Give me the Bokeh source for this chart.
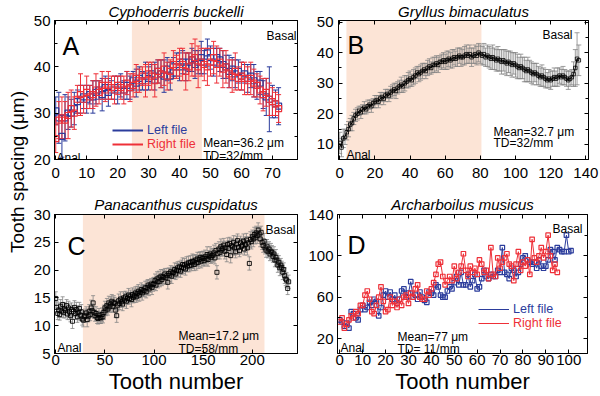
import math
from bokeh.plotting import figure
from bokeh.models import (Range1d, LinearAxis, BoxAnnotation, Whisker, TeeHead, Label,
                          ColumnDataSource, Legend, LegendItem, FixedTicker)
from bokeh.layouts import row, column
from bokeh.embed import file_html
from bokeh.resources import INLINE

FONT = "Liberation Sans"
BLUE = "#2b3c9c"
RED = "#ee3038"
SHADE = "#fce4d6"
GRAY = "#858585"

# ---------------- data ----------------
A_left = [30.5, 29.0, 25.0, 29.0, 30.0, 30.0, 31.0, 32.5, 33.0, 33.5,
          33.0, 34.0, 33.5, 34.5, 35.0, 34.0, 35.5, 34.5, 35.0, 35.5,
          35.0, 36.0, 35.0, 36.0, 35.5, 37.0, 36.5, 37.5, 37.0, 38.0,
          37.5, 38.5, 38.0, 39.0, 38.5, 38.0, 39.5, 38.0, 40.0, 40.5,
          40.0, 41.0, 40.0, 41.0, 41.5, 40.5, 41.0, 42.0, 41.0, 43.0,
          42.0, 41.0, 42.0, 41.5, 40.5, 40.0, 39.0, 39.5, 38.5, 39.0,
          38.0, 38.5, 37.5, 38.0, 37.0, 36.0, 36.5, 34.0, 33.5, 33.0,
          32.5, 32.0, 31.5]
A_left_err = [3.0, 5.5, 4.5, 5.0, 3.5, 3.0, 3.5, 2.5, 3.0, 2.5,
              3.0, 2.0, 3.5, 2.5, 2.0, 3.5, 2.5, 3.0, 2.0, 2.5,
              3.0, 2.5, 2.0, 3.0, 2.5, 2.0, 3.0, 2.5, 2.0, 3.0,
              2.5, 2.0, 3.0, 2.5, 3.0, 3.5, 2.5, 3.0, 2.0, 2.5,
              3.0, 2.5, 3.0, 2.0, 2.5, 3.0, 2.5, 3.5, 2.5, 3.0,
              2.5, 3.0, 2.0, 2.5, 3.0, 2.5, 3.5, 2.5, 3.0, 2.5,
              3.0, 2.0, 3.0, 2.5, 3.5, 3.0, 2.5, 3.0, 4.0, 7.0,
              3.5, 3.0, 4.0]
A_right = [24.5, 28.5, 29.0, 28.5, 29.5, 31.0, 30.0, 33.0, 34.0, 33.0,
           34.5, 33.5, 34.0, 35.0, 34.5, 36.0, 35.0, 36.0, 35.5, 35.0,
           36.0, 35.5, 35.0, 36.5, 35.5, 36.0, 37.5, 37.0, 38.0, 37.0,
           38.5, 38.0, 37.0, 39.0, 38.5, 39.5, 38.0, 39.0, 40.5, 40.0,
           41.0, 40.5, 39.0, 40.0, 41.5, 42.0, 40.0, 41.0, 40.5, 40.0,
           41.0, 42.0, 40.5, 41.0, 39.5, 40.0, 38.5, 38.0, 39.0, 37.5,
           38.0, 37.5, 37.0, 37.5, 36.5, 36.0, 35.0, 34.0, 34.5, 33.0,
           32.5, 32.0, 31.0]
A_right_err = [3.0, 4.0, 4.5, 4.0, 5.0, 4.0, 3.5, 3.0, 4.5, 3.0,
               3.5, 2.5, 3.0, 3.5, 2.5, 3.0, 2.5, 3.0, 2.5, 3.0,
               2.0, 2.5, 3.0, 2.5, 3.0, 2.5, 3.0, 2.5, 2.0, 3.5,
               2.5, 3.0, 3.5, 2.5, 3.0, 3.5, 3.0, 2.5, 3.0, 2.5,
               3.0, 3.5, 4.0, 3.0, 3.5, 4.0, 4.5, 3.0, 3.5, 4.0,
               3.0, 3.5, 4.0, 3.0, 4.0, 3.5, 3.0, 3.5, 4.0, 2.5,
               3.0, 3.5, 3.0, 3.5, 3.0, 2.5, 3.0, 3.5, 3.0, 3.5,
               3.0, 2.5, 3.0]
A_shade = (24.6, 47.2)

B_mean = [10.5, 9.0, 12.0, 12.5, 14.0, 15.0, 16.5, 17.0, 18.5, 19.5,
          20.0, 21.0, 20.5, 21.5, 22.0, 21.5, 22.5, 23.0, 22.5, 23.5,
          24.0, 24.5, 24.0, 25.0, 25.5, 25.0, 26.0, 26.5, 26.0, 27.0,
          27.5, 28.0, 27.5, 28.5, 29.0, 29.5, 29.0, 30.0, 30.5, 31.0,
          31.5, 31.0, 32.0, 32.5, 33.5, 33.0, 33.5, 34.0, 34.5, 34.0,
          35.0, 35.5, 35.0, 36.0, 36.0, 36.5, 36.0, 37.0, 37.0, 37.5,
          37.0, 37.5, 38.0, 37.5, 38.0, 38.5, 38.0, 38.5, 39.0, 38.5,
          38.5, 39.0, 39.5, 39.0, 39.5, 38.5, 39.0, 39.5, 39.0, 40.0,
          39.5, 39.0, 39.5, 38.5, 39.0, 38.5, 38.0, 38.5, 38.0, 37.5,
          38.0, 37.5, 37.0, 37.5, 37.0, 36.5, 37.0, 36.5, 36.0, 36.5,
          36.0, 35.5, 35.0, 35.5, 35.0, 34.5, 34.0, 34.5, 34.0, 33.5,
          33.0, 33.5, 33.0, 32.5, 32.0, 32.5, 32.0, 31.5, 31.0, 31.5,
          31.0, 31.5, 32.0, 31.5, 32.0, 32.5, 32.0, 32.5, 32.0, 31.5,
          31.0, 31.5, 32.0, 33.0, 35.0, 38.0, 37.5]
B_err = [3.5, 3.0, 3.0, 2.5, 2.5, 2.5, 2.0, 2.5, 2.0, 2.0,
         2.0, 1.5, 2.0, 1.5, 2.0, 1.5, 2.0, 1.5, 2.0, 1.5,
         2.0, 1.5, 2.0, 2.0, 1.5, 2.0, 2.0, 1.5, 2.0, 2.0,
         2.0, 2.0, 2.5, 2.0, 2.0, 2.5, 2.0, 2.5, 2.0, 2.5,
         2.5, 2.0, 2.5, 2.5, 2.0, 2.5, 2.5, 2.5, 2.0, 2.5,
         2.5, 2.5, 2.0, 2.5, 2.5, 2.5, 2.5, 2.0, 2.5, 2.5,
         2.5, 3.0, 2.5, 2.5, 3.0, 2.5, 2.5, 3.0, 2.5, 3.0,
         2.5, 3.0, 3.0, 2.5, 3.0, 3.0, 2.5, 3.0, 3.0, 3.0,
         3.0, 3.0, 3.5, 3.0, 3.5, 3.5, 3.5, 4.0, 3.5, 3.5,
         4.0, 3.5, 4.0, 3.5, 4.0, 4.0, 3.5, 4.0, 4.0, 3.5,
         4.0, 4.0, 3.5, 4.0, 3.5, 4.0, 3.5, 4.0, 3.5, 3.5,
         3.5, 3.0, 3.5, 3.0, 3.0, 3.5, 3.0, 3.0, 2.5, 3.0,
         3.0, 2.5, 3.0, 2.5, 3.0, 2.5, 2.5, 3.0, 2.5, 2.5,
         3.0, 2.5, 2.5, 4.0, 6.0, 8.5, 5.0]
B_shade = (3.8, 80.6)

C_mean = [14.9, 13.3, 12.2, 12.8, 12.0, 13.5, 12.6, 13.8, 12.4, 13.0,
          12.7, 13.6, 12.1, 13.2, 12.5, 11.8, 12.9, 10.8, 12.6, 13.3,
          12.2, 12.9, 11.6, 12.4, 13.1, 11.9, 12.5, 11.2, 11.0, 11.6,
          11.8, 12.3, 11.1, 11.7, 12.6, 12.0, 13.2, 12.7, 14.1, 12.4,
          11.8, 12.2, 11.5, 11.3, 11.9, 11.5, 11.4, 12.0, 11.6, 12.4,
          13.2, 12.8, 13.6, 13.0, 14.1, 13.4, 13.9, 14.4, 13.5, 14.2,
          14.0, 12.8, 11.8, 13.7, 14.5, 14.0, 14.8, 14.3, 13.9, 15.0,
          14.6, 15.2, 14.4, 14.9, 15.5, 14.9, 15.3, 14.7, 15.6, 15.1,
          15.4, 15.9, 15.2, 15.8, 16.2, 15.5, 16.0, 16.5, 15.9, 16.3,
          16.3, 16.8, 16.1, 16.9, 17.3, 16.6, 17.1, 17.5, 16.9, 17.4,
          17.6, 18.1, 17.3, 18.4, 17.9, 18.6, 18.0, 18.9, 18.3, 18.8,
          18.7, 19.3, 18.6, 19.0, 17.8, 19.4, 19.1, 19.7, 18.9, 19.5,
          19.6, 20.1, 19.3, 19.9, 20.4, 20.0, 20.6, 19.8, 20.5, 21.0,
          20.4, 20.9, 20.2, 21.1, 20.7, 21.3, 20.8, 21.4, 20.9, 21.6,
          21.5, 21.0, 21.8, 21.3, 22.0, 21.4, 21.9, 22.3, 21.6, 22.2,
          22.1, 21.7, 22.4, 22.0, 22.8, 21.9, 22.5, 22.9, 22.3, 22.6,
          22.7, 23.1, 22.2, 23.5, 19.6, 23.0, 23.8, 23.2, 24.2, 23.6,
          23.9, 24.5, 23.4, 24.1, 22.8, 24.6, 23.9, 24.8, 22.6, 24.4,
          24.2, 25.0, 24.0, 23.3, 24.7, 25.3, 24.1, 23.5, 24.9, 24.3,
          24.5, 25.2, 23.8, 24.6, 25.4, 24.0, 24.9, 21.2, 25.5, 25.1,
          26.0, 25.6, 26.4, 25.8, 26.7, 26.2, 27.2, 26.5, 25.6, 26.8,
          25.0, 24.4, 25.2, 24.0, 23.6, 24.3, 23.3, 23.8, 22.9, 23.4,
          23.2, 22.5, 22.9, 21.8, 22.3, 21.8, 20.9, 21.4, 20.4, 20.9,
          20.5, 19.6, 20.1, 19.0, 18.4, 18.2, 16.7, 17.9]
C_err = [1.2, 1.0, 1.1, 1.3, 1.0, 1.2, 1.1, 1.4, 1.0, 1.2,
         1.3, 1.1, 1.0, 1.2, 1.4, 1.1, 1.2, 1.3, 1.0, 1.2,
         1.1, 1.3, 1.0, 1.2, 1.1, 1.0, 1.3, 1.1, 1.2, 1.0,
         1.2, 1.1, 1.3, 1.0, 1.2, 1.1, 1.4, 1.2, 1.3, 1.1,
         1.0, 1.2, 1.1, 1.0, 1.2, 1.1, 1.0, 1.2, 1.1, 1.3,
         1.2, 1.0, 1.3, 1.1, 1.2, 1.0, 1.3, 1.2, 1.1, 1.2,
         1.1, 1.3, 1.2, 1.0, 1.2, 1.1, 1.3, 1.0, 1.2, 1.1,
         1.2, 1.0, 1.3, 1.1, 1.2, 1.0, 1.1, 1.3, 1.2, 1.0,
         1.2, 1.1, 1.0, 1.3, 1.2, 1.1, 1.0, 1.2, 1.3, 1.1,
         1.0, 1.2, 1.1, 1.3, 1.0, 1.2, 1.1, 1.0, 1.3, 1.2,
         1.1, 1.2, 1.0, 1.3, 1.1, 1.2, 1.0, 1.2, 1.1, 1.3,
         1.2, 1.0, 1.1, 1.3, 1.2, 1.0, 1.2, 1.1, 1.3, 1.0,
         1.1, 1.2, 1.0, 1.3, 1.1, 1.2, 1.0, 1.1, 1.3, 1.2,
         1.0, 1.2, 1.1, 1.3, 1.0, 1.2, 1.1, 1.2, 1.0, 1.3,
         1.2, 1.1, 1.0, 1.3, 1.2, 1.1, 1.3, 1.0, 1.2, 1.1,
         1.3, 1.0, 1.2, 1.1, 1.4, 1.2, 1.0, 1.3, 1.1, 1.2,
         1.2, 1.4, 1.1, 1.3, 1.2, 1.0, 1.3, 1.2, 1.4, 1.1,
         1.3, 1.2, 1.4, 1.1, 1.3, 1.2, 1.4, 1.1, 1.3, 1.2,
         1.4, 1.2, 1.3, 1.1, 1.4, 1.2, 1.3, 1.1, 1.2, 1.4,
         1.2, 1.3, 1.1, 1.4, 1.2, 1.3, 1.1, 1.2, 1.4, 1.3,
         1.2, 1.4, 1.3, 1.1, 1.2, 1.4, 1.3, 1.2, 1.4, 1.1,
         1.3, 1.2, 1.4, 1.1, 1.3, 1.2, 1.1, 1.3, 1.2, 1.4,
         1.2, 1.1, 1.3, 1.2, 1.4, 1.1, 1.3, 1.2, 1.4, 1.2,
         1.1, 1.3, 1.2, 1.4, 1.2, 1.3, 1.1, 1.2]
C_shade = (27.6, 212.4)

D_left = [38, 36, 32, 35, 30, 46, 44, 40, 38, 48,
          52, 48, 50, 55, 52, 58, 56, 42, 50, 62,
          66, 60, 65, 58, 62, 54, 58, 66, 68, 60,
          64, 75, 60, 62, 58, 65, 60, 57, 55, 65,
          64, 62, 72, 70, 62, 60, 60, 66, 70, 68,
          74, 80, 72, 84, 72, 72, 82, 70, 76, 82,
          68, 70, 78, 86, 80, 78, 82, 80, 80, 86,
          84, 108, 84, 82, 78, 88, 86, 80, 84, 92,
          98, 100, 96, 94, 92, 94, 88, 96, 90, 88,
          90, 96, 106, 104, 96, 108, 106, 104, 104, 120,
          104, 105]
D_right = [36, 40, 30, 34, 38, 42, 40, 46, 44, 52,
           52, 62, 66, 58, 46, 44, 52, 60, 70, 56,
           46, 48, 60, 52, 56, 50, 58, 52, 60, 62,
           54, 64, 60, 68, 72, 60, 58, 58, 66, 62,
           68, 74, 82, 92, 94, 80, 72, 76, 80, 76,
           90, 78, 84, 90, 102, 86, 80, 90, 84, 88,
           82, 96, 92, 84, 86, 78, 108, 82, 80, 98,
           88, 94, 98, 102, 92, 90, 76, 92, 104, 86,
           94, 90, 96, 82, 116, 98, 94, 100, 108, 98,
           104, 120, 100, 86, 92, 84]

# tick values / labels
A_xticks = [0, 10, 20, 30, 40, 50, 60, 70, 80]
A_yticks = [20, 30, 40, 50]
A_yminor = [25, 35, 45]
B_xticks = [0, 20, 40, 60, 80, 100, 120, 140]
B_yticks = [10, 20, 30, 40, 50]
B_yminor = [5, 15, 25, 35, 45]
C_xticks = [0, 50, 100, 150, 200, 250]
C_yticks = [5, 10, 15, 20, 25, 30]
D_xticks = [0, 10, 20, 30, 40, 50, 60, 70, 80, 90, 100]
D_yticks = [20, 60, 100, 140]
D_yminor = [40, 80, 120]

for a, b in [(A_left, A_left_err), (A_right, A_right_err), (B_mean, B_err), (C_mean, C_err)]:
    assert len(a) == len(b), (len(a), len(b))

# ---------------- layout geometry (page pixels) ----------------
GEO = {
    "A": dict(fig=(30, 0, 300, 190), frame=(52, 19, 297, 159), xr=(-0.4, 78.1), yr=(20, 50)),
    "B": dict(fig=(300, 0, 600, 190), frame=(338, 19, 588, 159), xr=(-0.7, 141.5), yr=(5.1, 50.5)),
    "C": dict(fig=(30, 190, 300, 396), frame=(52, 214, 297, 353), xr=(-1.3, 246.0), yr=(5, 30)),
    "D": dict(fig=(300, 190, 600, 396), frame=(337, 214, 587, 353), xr=(-1.0, 108.2), yr=(5.5, 140)),
}


def to_data(g, px, py):
    fl, ft, fr, fb = g["frame"]
    x0, x1 = g["xr"]
    y0, y1 = g["yr"]
    return (x0 + (px - fl) / (fr - fl) * (x1 - x0),
            y0 + (fb - py) / (fb - ft) * (y1 - y0))


def style_axis(ax, ticks, minor, labels, standoff=4):
    ax.ticker = FixedTicker(ticks=ticks, minor_ticks=minor)
    ax.major_tick_in = 4
    ax.major_tick_out = 0
    ax.minor_tick_in = 3
    ax.minor_tick_out = 0
    ax.major_tick_line_color = "black"
    ax.minor_tick_line_color = "black"
    ax.axis_line_color = "black"
    if labels:
        ax.major_label_text_font = FONT
        ax.major_label_text_font_size = "15px"
        ax.major_label_text_color = "black"
        ax.major_label_standoff = standoff
    else:
        ax.major_label_text_font_size = "0px"
        ax.major_label_standoff = 0
        ax.major_label_text_color = None


def make_panel(key, title, title_offset, title_standoff, xt, xm, yt, ym, xstand, ystand, xlabel=None):
    g = GEO[key]
    L, T, R, B = g["fig"]
    fl, ft, fr, fb = g["frame"]
    p = figure(width=R - L, height=B - T, x_range=Range1d(*g["xr"]), y_range=Range1d(*g["yr"]),
               output_backend="svg", toolbar_location=None, title=title,
               min_border_left=fl - L, min_border_right=R - fr,
               min_border_top=ft - T, min_border_bottom=B - fb,
               background_fill_color="white", border_fill_color="white")
    p.title.text_font = FONT
    p.title.text_font_size = "15px"
    p.title.text_font_style = "italic"
    p.title.text_color = "black"
    p.title.align = "center"
    p.title.offset = title_offset
    p.title.standoff = title_standoff
    p.grid.visible = False
    p.outline_line_color = "black"
    p.outline_line_width = 1
    style_axis(p.xaxis[0], xt, xm, True, xstand)
    style_axis(p.yaxis[0], yt, ym, True, ystand)
    if xlabel:
        ax = p.xaxis[0]
        ax.axis_label = xlabel
        ax.axis_label_text_font = FONT
        ax.axis_label_text_font_size = "22px"
        ax.axis_label_text_font_style = "normal"
        ax.axis_label_text_color = "black"
        ax.axis_label_standoff = 1
    top = LinearAxis()
    style_axis(top, xt, xm, False)
    p.add_layout(top, "above")
    right = LinearAxis()
    style_axis(right, yt, ym, False)
    p.add_layout(right, "right")
    return p


def put(p, key, px, py, text, size, align="left", color="black", style="normal"):
    x, y = to_data(GEO[key], px, py)
    p.add_layout(Label(x=x, y=y, text=text, text_font=FONT, text_font_size=size,
                       text_font_style=style, text_color=color, text_align=align,
                       text_baseline="alphabetic"))


def err_series(p, xs, ys, es, color, head, width=1.0):
    src = ColumnDataSource(dict(x=xs, lo=[y - e for y, e in zip(ys, es)],
                                hi=[y + e for y, e in zip(ys, es)]))
    w = Whisker(source=src, base="x", lower="lo", upper="hi", level="underlay",
                line_color=color, line_width=width,
                lower_head=TeeHead(size=head, line_color=color, line_width=width),
                upper_head=TeeHead(size=head, line_color=color, line_width=width))
    p.add_layout(w)


def shade(p, span):
    p.add_layout(BoxAnnotation(left=span[0], right=span[1], fill_color=SHADE, fill_alpha=1.0,
                               line_color=None, level="image"))


def legend(p, renderer, text, color, vx, vy):
    lg = Legend(items=[LegendItem(label=text, renderers=[renderer])], location=(vx, vy),
                label_text_font=FONT, label_text_font_size="12.5px", label_text_color=color,
                glyph_width=31, glyph_height=10, label_height=10, label_standoff=4,
                padding=0, margin=0, spacing=0, background_fill_alpha=0,
                border_line_color=None)
    p.add_layout(lg)


# ---------------- panel A ----------------
pA = make_panel("A", "Cyphoderris buckelli", 3, 1, A_xticks, [], A_yticks, A_yminor, 8, 4)
shade(pA, A_shade)
xa = list(range(len(A_left)))
err_series(pA, xa, A_left, A_left_err, BLUE, 5)
pA.scatter(xa, A_left, marker="square", size=6, fill_color=None, line_color=BLUE, line_width=1.2)
err_series(pA, xa, A_right, A_right_err, RED, 5)
pA.scatter(xa, A_right, marker="square", size=6, fill_color=None, line_color=RED, line_width=1.2)
kA1 = pA.line([math.nan], [math.nan], line_color=BLUE, line_width=2)
kA2 = pA.line([math.nan], [math.nan], line_color=RED, line_width=2)
legend(pA, kA1, "Left file", BLUE, 58, 22.5)
legend(pA, kA2, "Right file", RED, 58, 8.5)
put(pA, "A", 60, 45, "A", "25px")
put(pA, "A", 296, 34.3, "Basal", "12px", "right")
put(pA, "A", 54, 157, "Anal", "12px")
put(pA, "A", 202, 142, "Mean=36.2 μm", "12px")
put(pA, "A", 202, 155, "TD=32/mm", "12px")

# ---------------- panel B ----------------
pB = make_panel("B", "Gryllus bimaculatus", -7.5, 1, B_xticks, [], B_yticks, B_yminor, 8, 5)
shade(pB, B_shade)
xb = list(range(len(B_mean)))
err_series(pB, xb, B_mean, B_err, GRAY, 5, 0.8)
pB.line(xb, B_mean, line_color="black", line_width=1)
pB.scatter(xb, B_mean, marker="square", size=3.5, fill_color=None, line_color="black", line_width=0.8)
put(pB, "B", 347, 44, "B", "25px")
put(pB, "B", 572, 34, "Basal", "12px", "right")
put(pB, "B", 346, 154, "Anal", "12px")
put(pB, "B", 493, 131, "Mean=32.7 μm", "12px")
put(pB, "B", 493, 142, "TD=32/mm", "12px")

# ---------------- panel C ----------------
pC = make_panel("C", "Panacanthus cuspidatus", 7.5, 4, C_xticks, [], C_yticks, [], 1, 4,
                xlabel="Tooth number")
shade(pC, C_shade)
xc = list(range(len(C_mean)))
err_series(pC, xc, C_mean, C_err, GRAY, 4, 0.8)
pC.scatter(xc, C_mean, marker="square", size=4, fill_color=None, line_color="black", line_width=0.9)
put(pC, "C", 65, 245, "C", "25px")
put(pC, "C", 295, 229.5, "Basal", "12px", "right")
put(pC, "C", 55, 347, "Anal", "12px")
put(pC, "C", 177, 335, "Mean=17.2 μm", "12px")
put(pC, "C", 177, 348, "TD=58/mm", "12px")

# ---------------- panel D ----------------
pD = make_panel("D", "Archarboilus musicus", 3, 4, D_xticks, [], D_yticks, D_yminor, 1, 4,
                xlabel="Tooth number")
xl = list(range(len(D_left)))
xr = list(range(len(D_right)))
lD1 = pD.line(xl, D_left, line_color=BLUE, line_width=1)
pD.scatter(xl, D_left, marker="square", size=4.5, fill_color=None, line_color=BLUE, line_width=1.2)
lD2 = pD.line(xr, D_right, line_color=RED, line_width=1)
pD.scatter(xr, D_right, marker="square", size=4.5, fill_color=None, line_color=RED, line_width=1.2)
legend(pD, lD1, "Left file", BLUE, 141, 37)
legend(pD, lD2, "Right file", RED, 141, 23)
put(pD, "D", 347, 244, "D", "25px")
put(pD, "D", 582, 228.5, "Basal", "12px", "right")
put(pD, "D", 340, 347, "Anal", "12px")
put(pD, "D", 397, 336, "Mean=77 μm", "12px")
put(pD, "D", 397, 348, "TD= 11/mm", "12px")

# ---------------- shared y label ----------------
pL = figure(width=30, height=396, x_range=Range1d(0, 30), y_range=Range1d(396, 0),
            output_backend="svg", toolbar_location=None, min_border=0,
            x_axis_location=None, y_axis_location=None,
            background_fill_color="white", border_fill_color="white")
pL.grid.visible = False
pL.outline_line_color = None
pL.add_layout(Label(x=17, y=171.5, text="Tooth spacing (μm)", angle=math.pi / 2,
                    text_font=FONT, text_font_size="19px", text_color="black",
                    text_align="center", text_baseline="alphabetic"))

layout = row(pL, column(row(pA, pB), row(pC, pD)))
open("out.html", "w").write(file_html(layout, INLINE))
